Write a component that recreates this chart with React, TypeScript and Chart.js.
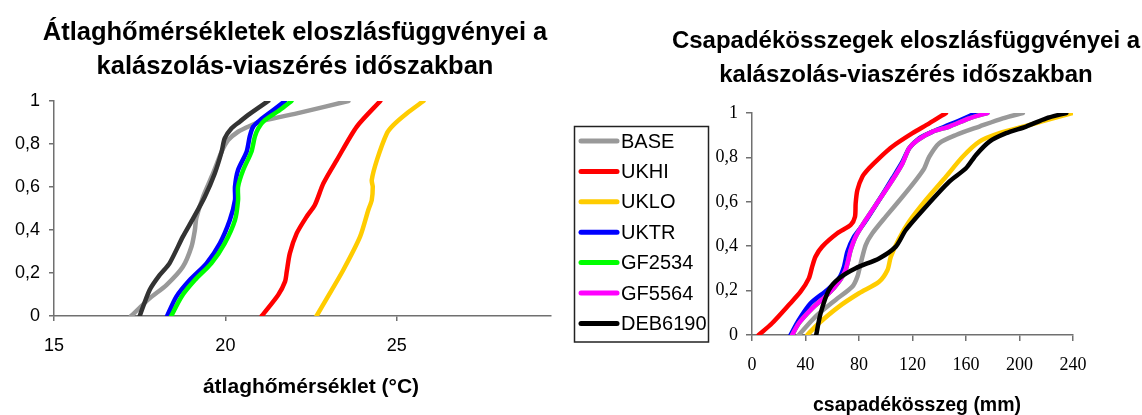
import React, { useEffect, useRef } from "react";
import { Chart, registerables } from "chart.js";

Chart.register(...registerables);

// ---------- Data ----------
const seriesNames = ["BASE", "UKHI", "UKLO", "UKTR", "GF2534", "GF5564", "DEB6190"];
const seriesColors = ["#999999", "#FF0000", "#FFCC00", "#0000FF", "#00FF00", "#FF00FF", "#000000"];
const leftColors = ["#999999", "#FF0000", "#FFCC00", "#0000FF", "#00FF00", "#FF00FF", "#333333"];

// Temperature (°C) CDFs: [temperature, probability]
const tBASE = [[17.25, 0], [17.79, 0.082], [18.28, 0.144], [18.76, 0.229], [19.01, 0.322], [19.11, 0.4], [19.15, 0.454], [19.35, 0.555], [19.64, 0.663], [19.89, 0.764], [20.08, 0.818], [20.37, 0.857], [20.71, 0.884], [21.1, 0.908], [22.18, 0.946], [23.59, 1]];
const tUKHI = [[21.06, 0], [21.54, 0.098], [21.74, 0.16], [21.79, 0.206], [21.88, 0.291], [22.08, 0.384], [22.37, 0.462], [22.61, 0.516], [22.86, 0.617], [23.25, 0.725], [23.83, 0.88], [24.52, 1]];
const tUKLO = [[22.66, 0], [22.96, 0.082], [23.44, 0.214], [23.93, 0.369], [24.17, 0.493], [24.27, 0.539], [24.3, 0.601], [24.27, 0.632], [24.42, 0.725], [24.71, 0.849], [24.9, 0.888], [25.29, 0.942], [25.78, 1]];
const tUKTR = [[18.3, 0], [18.57, 0.09], [18.96, 0.167], [19.45, 0.245], [19.84, 0.338], [20.13, 0.446], [20.28, 0.539], [20.28, 0.601], [20.37, 0.679], [20.62, 0.764], [20.71, 0.834], [20.81, 0.88], [21.01, 0.911], [21.4, 0.958], [21.74, 1]];
const tGF2534 = [[18.42, 0], [18.72, 0.09], [19.11, 0.167], [19.59, 0.245], [19.98, 0.338], [20.28, 0.446], [20.37, 0.539], [20.37, 0.601], [20.52, 0.679], [20.76, 0.764], [20.86, 0.834], [20.96, 0.873], [21.15, 0.911], [21.59, 0.958], [21.93, 1]];
const tDEB6190 = [[17.5, 0], [17.79, 0.121], [18.08, 0.19], [18.37, 0.245], [18.76, 0.369], [19.06, 0.454], [19.4, 0.555], [19.69, 0.663], [19.89, 0.764], [19.98, 0.826], [20.18, 0.873], [20.42, 0.904], [20.71, 0.94], [21.25, 1]];

// Precipitation (mm) CDFs: [precipitation, probability]
const pBASE = [[35, 0], [47.5, 0.083], [62.5, 0.158], [75, 0.218], [78.8, 0.263], [81.3, 0.323], [85, 0.405], [90, 0.458], [100, 0.533], [112.5, 0.623], [122.5, 0.698], [128.8, 0.751], [132.5, 0.803], [140, 0.864], [152.5, 0.901], [170, 0.939], [187.5, 0.976], [202.5, 1]];
const pUKHI = [[5, 0], [15, 0.053], [27.5, 0.135], [36.3, 0.195], [42.5, 0.255], [45, 0.308], [47.5, 0.353], [52.5, 0.398], [63.8, 0.458], [73.8, 0.496], [77, 0.533], [77.5, 0.593], [78.8, 0.653], [82.5, 0.713], [87.5, 0.751], [95, 0.796], [105, 0.849], [120, 0.909], [132.5, 0.953], [145, 1]];
const pUKLO = [[41.3, 0], [50, 0.053], [65, 0.128], [80, 0.188], [95, 0.24], [101.3, 0.293], [103.8, 0.353], [110, 0.435], [117.5, 0.511], [130, 0.608], [145, 0.713], [157.5, 0.803], [170, 0.871], [185, 0.909], [207.5, 0.946], [225, 0.976], [240, 1]];
const pUKTR = [[28.8, 0], [35, 0.068], [43.8, 0.143], [56.3, 0.203], [65, 0.255], [68.8, 0.308], [71.3, 0.375], [76.3, 0.443], [83.8, 0.503], [95, 0.608], [105, 0.706], [112.5, 0.781], [117.5, 0.841], [125, 0.886], [135, 0.916], [150, 0.953], [167.5, 1]];
const pGF2534 = [[30, 0], [35, 0.053], [45, 0.12], [57.5, 0.188], [65, 0.24], [70, 0.293], [73.8, 0.383], [77.5, 0.443], [85, 0.518], [95, 0.608], [105, 0.698], [112.5, 0.773], [117.5, 0.841], [123.8, 0.878], [135, 0.916], [147.5, 0.939], [162.5, 0.976], [176, 1]];
const pGF5564 = [[30, 0], [35, 0.053], [45, 0.12], [57.5, 0.188], [65, 0.24], [70, 0.293], [73.8, 0.383], [77.5, 0.443], [85, 0.518], [95, 0.608], [105, 0.698], [112.5, 0.773], [117.5, 0.841], [123.8, 0.878], [135, 0.916], [147.5, 0.939], [162.5, 0.976], [176, 1]];
const pDEB6190 = [[48, 0], [51.3, 0.098], [57.5, 0.203], [65, 0.255], [77.5, 0.301], [95, 0.345], [107.5, 0.398], [115, 0.473], [130, 0.578], [147.5, 0.691], [160, 0.751], [167.5, 0.811], [177.5, 0.871], [190, 0.909], [205, 0.939], [220, 0.976], [235, 1]];

const tempSeries = [tBASE, tUKHI, tUKLO, tUKTR, tGF2534, tDEB6190];
const tempNames = ["BASE", "UKHI", "UKLO", "UKTR", "GF2534", "DEB6190"];
const precSeries = [pBASE, pUKHI, pUKLO, pUKTR, pGF2534, pGF5564, pDEB6190];

const tempTicks = [15, 20, 25];
const precTicks = [0, 40, 80, 120, 160, 200, 240];
const probTicks = [0, 0.2, 0.4, 0.6, 0.8, 1];

const leftTitle = ["Átlaghőmérsékletek eloszlásfüggvényei a", "kalászolás-viaszérés időszakban"];
const rightTitle = ["Csapadékösszegek eloszlásfüggvényei a", "kalászolás-viaszérés időszakban"];
const leftXTitle = "átlaghőmérséklet (°C)";
const rightXTitle = "csapadékösszeg (mm)";

const W = 1142;
const H = 415;

const probLabel = (v: number) => {
  if (Math.abs(v) < 1e-9) return "0";
  if (Math.abs(v - 1) < 1e-9) return "1";
  return v.toFixed(1).replace(".", ",");
};

// later series are drawn on top (lower order => drawn last)
function makeDataset(label: string, pts: number[][], color: string, idx: number, total: number) {
  return {
    label,
    data: pts.map(([x, y]) => ({ x, y })),
    borderColor: color,
    backgroundColor: color,
    borderWidth: 4.5,
    pointRadius: 0,
    tension: 0.25,
    fill: false,
    borderCapStyle: "round",
    borderJoinStyle: "round",
    order: total - idx,
  };
}

const textPlugin = (
  id: string,
  title: string[],
  titleFont: string,
  titleX: number,
  titleYs: number[],
  xTitle: string,
  xTitleFont: string,
  xTitleX: number,
  xTitleY: number,
  drawLegend: boolean
) => ({
  id,
  afterDraw(chart: any) {
    const ctx = chart.ctx as CanvasRenderingContext2D;
    ctx.save();
    ctx.fillStyle = "#000";
    ctx.textAlign = "center";
    ctx.textBaseline = "alphabetic";
    ctx.font = titleFont;
    title.forEach((t, i) => ctx.fillText(t, titleX, titleYs[i]));
    ctx.font = xTitleFont;
    ctx.fillText(xTitle, xTitleX, xTitleY);
    if (drawLegend) {
      ctx.strokeStyle = "#222";
      ctx.lineWidth = 1.5;
      ctx.strokeRect(574.5, 126.5, 134, 215.5);
      ctx.font = '20px "Liberation Sans"';
      ctx.textAlign = "left";
      ctx.textBaseline = "middle";
      seriesNames.forEach((n, i) => {
        const y = 141 + i * 30.4;
        ctx.strokeStyle = seriesColors[i];
        ctx.lineWidth = 5;
        ctx.lineCap = "round";
        ctx.beginPath();
        ctx.moveTo(581, y);
        ctx.lineTo(617, y);
        ctx.stroke();
        ctx.fillStyle = "#000";
        ctx.fillText(n, 621, y + 1);
      });
    }
    ctx.restore();
  },
});

function axisCommon(fontFamily: string, padding: number, tickLength: number) {
  return {
    grid: {
      display: true,
      drawOnChartArea: false,
      drawTicks: true,
      tickLength,
      color: "#707070",
      lineWidth: 1.5,
    },
    border: { display: true, color: "#707070", width: 1.5 },
    ticks: {
      font: { family: fontFamily, size: 18 },
      color: "#000",
      padding,
      maxRotation: 0,
      autoSkip: false,
      callback: (v: number) => String(v),
    },
  };
}

export default function App() {
  const leftRef = useRef<HTMLCanvasElement | null>(null);
  const rightRef = useRef<HTMLCanvasElement | null>(null);

  useEffect(() => {
    const yAxis = (family: string, pad: number, tl: number, width: number) => {
      const base: any = axisCommon(family, pad, tl);
      base.ticks.callback = (v: number) => probLabel(v);
      return {
        type: "linear",
        min: 0,
        max: 1,
        ...base,
        afterBuildTicks: (axis: any) => {
          axis.ticks = probTicks.map((v) => ({ value: v }));
        },
        afterFit: (s: any) => {
          s.width = width;
        },
      };
    };

    const left = new Chart(leftRef.current as HTMLCanvasElement, {
      type: "line",
      data: {
        datasets: tempSeries.map((s, i) =>
          makeDataset(tempNames[i], s, leftColors[seriesNames.indexOf(tempNames[i])], i, tempSeries.length)
        ) as any,
      },
      options: {
        animation: false,
        responsive: false,
        devicePixelRatio: 1,
        layout: { padding: { left: 0, right: W - 551, top: 101, bottom: H - 316 - 40 } },
        plugins: { legend: { display: false }, tooltip: { enabled: false } },
        scales: {
          x: {
            type: "linear",
            min: 15,
            max: 29.5,
            ...axisCommon("Liberation Sans", 14, 5),
            afterBuildTicks: (axis: any) => {
              axis.ticks = tempTicks.map((v) => ({ value: v }));
            },
            afterFit: (s: any) => {
              s.height = 40;
            },
          },
          y: yAxis("Liberation Sans", 9, 5, 54),
        } as any,
      } as any,
      plugins: [
        textPlugin(
          "leftText",
          leftTitle,
          'bold 25.5px "Liberation Sans"',
          295,
          [40, 74],
          leftXTitle,
          'bold 21px "Liberation Sans"',
          311,
          393,
          false
        ),
      ],
    } as any);

    const right = new Chart(rightRef.current as HTMLCanvasElement, {
      type: "line",
      data: {
        datasets: precSeries.map((s, i) =>
          makeDataset(seriesNames[i], s, seriesColors[i], i, precSeries.length)
        ) as any,
      },
      options: {
        animation: false,
        responsive: false,
        devicePixelRatio: 1,
        layout: { padding: { left: 752 - 52, right: W - 1073, top: 113, bottom: H - 335 - 40 } },
        plugins: { legend: { display: false }, tooltip: { enabled: false } },
        scales: {
          x: {
            type: "linear",
            min: 0,
            max: 240,
            ...axisCommon("Liberation Serif", 13, 6),
            afterBuildTicks: (axis: any) => {
              axis.ticks = precTicks.map((v) => ({ value: v }));
            },
            afterFit: (s: any) => {
              s.height = 40;
            },
          },
          y: yAxis("Liberation Serif", 8, 6, 52),
        } as any,
      } as any,
      plugins: [
        textPlugin(
          "rightText",
          rightTitle,
          'bold 24px "Liberation Sans"',
          906,
          [48, 82],
          rightXTitle,
          'bold 19.5px "Liberation Sans"',
          917,
          411,
          true
        ),
      ],
    } as any);

    return () => {
      left.destroy();
      right.destroy();
    };
  }, []);

  const canvasStyle: React.CSSProperties = {
    position: "absolute",
    left: 0,
    top: 0,
    width: W,
    height: H,
  };

  return (
    <div
      style={{
        position: "fixed",
        left: 0,
        top: 0,
        width: W,
        height: H,
        background: "#ffffff",
        overflow: "hidden",
      }}
    >
      <canvas ref={leftRef} width={W} height={H} style={canvasStyle} />
      <canvas ref={rightRef} width={W} height={H} style={canvasStyle} />
    </div>
  );
}
